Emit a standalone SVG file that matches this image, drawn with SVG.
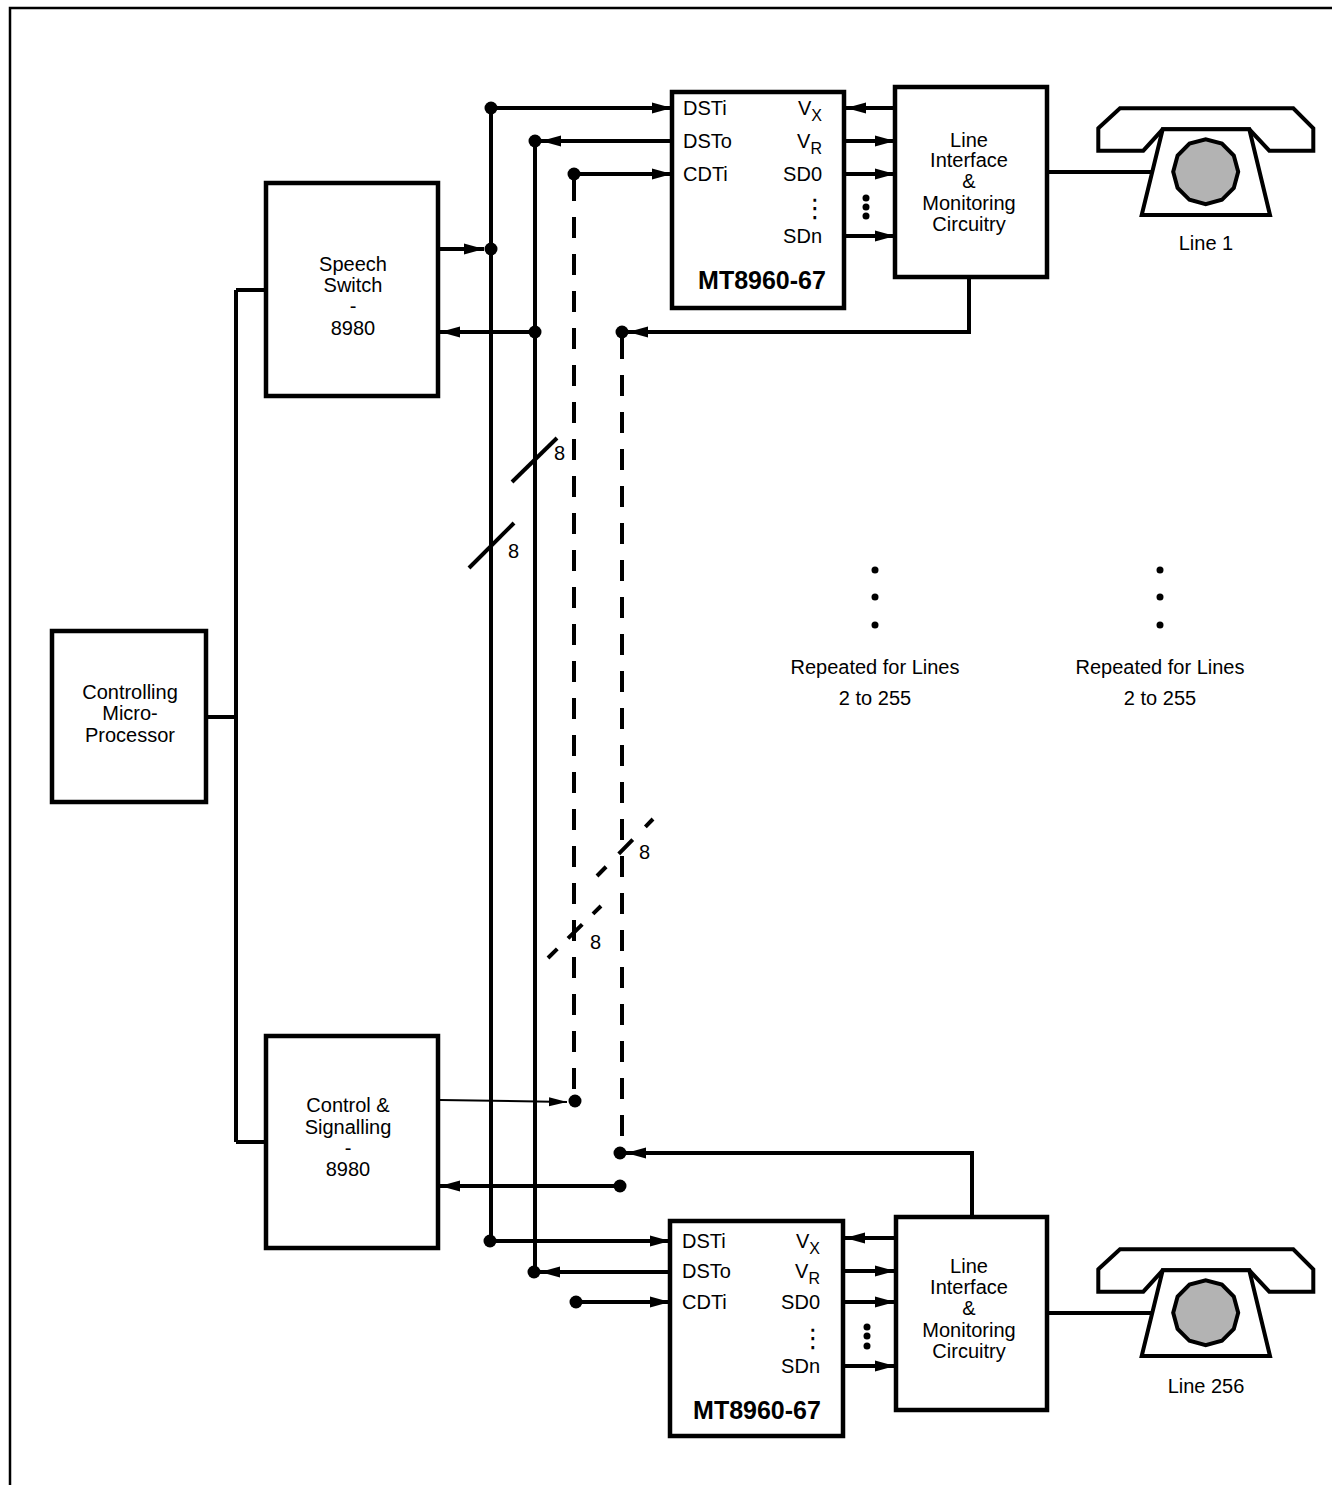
<svg xmlns="http://www.w3.org/2000/svg" width="1332" height="1485" viewBox="0 0 1332 1485">
<style>
.box{fill:#fff;stroke:#000;stroke-width:4.5}
.w{fill:none;stroke:#000;stroke-width:4}
.thin{fill:none;stroke:#000;stroke-width:2}
.dash{fill:none;stroke:#000;stroke-width:4;stroke-dasharray:21 16}
.ph{fill:#fff;stroke:#000;stroke-width:4;stroke-linejoin:miter}
.dial{fill:#b3b3b3;stroke:#000;stroke-width:4}
.t{font-family:"Liberation Sans",Arial,Helvetica,sans-serif;font-size:20px;fill:#000}
.c{text-anchor:middle}
.e{text-anchor:end}
.b{font-weight:bold;font-size:25px}
.sub{font-size:16px}
.vd{font-family:"DejaVu Sans",sans-serif;font-size:26px}
.dot{fill:#000}
</style>
<defs>
<marker id="ar" markerUnits="userSpaceOnUse" markerWidth="20" markerHeight="12" refX="20" refY="6" orient="auto">
<path d="M0,0.5 L20,6 L0,11.5 z" fill="#000"/>
</marker>
<marker id="arS" markerUnits="userSpaceOnUse" markerWidth="18" markerHeight="10" refX="18" refY="5" orient="auto">
<path d="M0,0.5 L18,5 L0,9.5 z" fill="#000"/>
</marker>
</defs>
<rect width="1332" height="1485" fill="#fff"/>
<path d="M10,1485 V8 H1332" fill="none" stroke="#000" stroke-width="2.5"/>

<g id="connectors">
<path class="w" d="M236,290 V1142"/>
<path class="w" d="M206,717 H236"/>
<path class="w" d="M236,290 H266"/>
<path class="w" d="M236,1142 H266"/>
<path class="w" d="M491,108 V1241"/>
<path class="w" d="M535,141 V1272"/>
<path class="dash" d="M574,180 V1096"/>
<path class="dash" d="M622,338 V1148"/>
<path class="w" d="M491,108 H672" marker-end="url(#ar)"/>
<path class="w" d="M672,141 H541" marker-end="url(#ar)"/>
<path class="w" d="M574,174 H672" marker-end="url(#ar)"/>
<path class="w" d="M895,108 H846" marker-end="url(#ar)"/>
<path class="w" d="M844,141 H895" marker-end="url(#ar)"/>
<path class="w" d="M844,174 H895" marker-end="url(#ar)"/>
<path class="w" d="M844,236 H895" marker-end="url(#ar)"/>
<path class="w" d="M438,249 H484" marker-end="url(#ar)"/>
<path class="w" d="M535,332 H440" marker-end="url(#ar)"/>
<path class="w" d="M969,277 V332 H628" marker-end="url(#ar)"/>
<path class="w" d="M1047,172 H1152"/>
<path class="thin" d="M440,1100 L567,1102" marker-end="url(#arS)"/>
<path class="w" d="M972,1217 V1153 H626" marker-end="url(#ar)"/>
<path class="w" d="M620,1186 H440" marker-end="url(#ar)"/>
<path class="w" d="M490,1241 H670" marker-end="url(#ar)"/>
<path class="w" d="M670,1272 H540" marker-end="url(#ar)"/>
<path class="w" d="M576,1302 H670" marker-end="url(#ar)"/>
<path class="w" d="M895,1238 H845" marker-end="url(#ar)"/>
<path class="w" d="M843,1271 H895" marker-end="url(#ar)"/>
<path class="w" d="M843,1302 H895" marker-end="url(#ar)"/>
<path class="w" d="M843,1366 H895" marker-end="url(#ar)"/>
<path class="w" d="M1047,1313 H1152"/>
<circle class="dot" cx="491" cy="108" r="6.5"/>
<circle class="dot" cx="535" cy="141" r="6.5"/>
<circle class="dot" cx="574" cy="174" r="6.5"/>
<circle class="dot" cx="491" cy="249" r="6.5"/>
<circle class="dot" cx="535" cy="332" r="6.5"/>
<circle class="dot" cx="622" cy="332" r="6.5"/>
<circle class="dot" cx="575" cy="1101" r="6.5"/>
<circle class="dot" cx="620" cy="1153" r="6.5"/>
<circle class="dot" cx="620" cy="1186" r="6.5"/>
<circle class="dot" cx="490" cy="1241" r="6.5"/>
<circle class="dot" cx="534" cy="1272" r="6.5"/>
<circle class="dot" cx="576" cy="1302" r="6.5"/>
<path class="w" d="M512,482 L557,438"/>
<path class="w" d="M469,568 L514,523"/>
<path class="w" d="M597,876 L653,819" style="stroke-dasharray:20 18;stroke-dashoffset:7"/>
<path class="w" d="M548,958 L601,906" style="stroke-dasharray:20 15;stroke-dashoffset:7"/>
<text class="t" x="554" y="460">8</text>
<text class="t" x="508" y="558">8</text>
<text class="t" x="639" y="859">8</text>
<text class="t" x="590" y="949">8</text>
<circle class="dot" cx="866" cy="198" r="3.5"/>
<circle class="dot" cx="866" cy="207" r="3.5"/>
<circle class="dot" cx="866" cy="216" r="3.5"/>
<circle class="dot" cx="867" cy="1327" r="3.5"/>
<circle class="dot" cx="867" cy="1336" r="3.5"/>
<circle class="dot" cx="867" cy="1346" r="3.5"/>
</g>

<g id="micro">
<rect class="box" x="52" y="631" width="154" height="171"/>
<text class="t c" x="130" y="699">Controlling</text>
<text class="t c" x="130" y="720">Micro-</text>
<text class="t c" x="130" y="742">Processor</text>
</g>

<g id="speech-switch">
<rect class="box" x="266" y="183" width="172" height="213"/>
<text class="t c" x="353" y="271">Speech</text>
<text class="t c" x="353" y="292">Switch</text>
<text class="t c" x="353" y="313">-</text>
<text class="t c" x="353" y="335">8980</text>
</g>

<g id="control-signalling">
<rect class="box" x="266" y="1036" width="172" height="212"/>
<text class="t c" x="348" y="1112">Control &amp;</text>
<text class="t c" x="348" y="1134">Signalling</text>
<text class="t c" x="348" y="1155">-</text>
<text class="t c" x="348" y="1176">8980</text>
</g>

<g id="mt-top">
<rect class="box" x="672" y="92" width="172" height="216"/>
<text class="t" x="683" y="115">DSTi</text>
<text class="t" x="683" y="148">DSTo</text>
<text class="t" x="683" y="181">CDTi</text>
<text class="t e" x="822" y="115">V<tspan class="sub" dy="6">X</tspan></text>
<text class="t e" x="822" y="148">V<tspan class="sub" dy="6">R</tspan></text>
<text class="t e" x="822" y="181">SD0</text>
<text class="e vd" x="828" y="217">⋮</text>
<text class="t e" x="822" y="243">SDn</text>
<text class="t c b" x="762" y="289">MT8960-67</text>
</g>

<g id="li-top">
<rect class="box" x="895" y="87" width="152" height="190"/>
<text class="t c" x="969" y="147">Line</text>
<text class="t c" x="969" y="167">Interface</text>
<text class="t c" x="969" y="188">&amp;</text>
<text class="t c" x="969" y="210">Monitoring</text>
<text class="t c" x="969" y="231">Circuitry</text>
</g>

<g id="phone-1">
<path class="ph" d="M1098.3,128.3 L1120,108.3 L1293.3,108.3 L1313.3,128.3 L1313.3,150.7 L1269.3,150.7 L1249.3,129.3 L1162.7,129.3 L1143.3,150.7 L1098.3,150.7 Z"/>
<path class="ph" d="M1162.7,129.3 L1141.7,215 L1270,215 L1249.3,129.3 Z"/>
<polygon class="dial" points="1238.2,171.7 1233.8,187.9 1221.9,199.8 1205.7,204.2 1189.5,199.8 1177.6,187.9 1173.2,171.7 1177.6,155.5 1189.5,143.6 1205.7,139.2 1221.9,143.6 1233.8,155.5"/>
<text class="t c" x="1206" y="250">Line 1</text>
</g>

<g id="mt-bottom">
<rect class="box" x="670" y="1221" width="173" height="215"/>
<text class="t" x="682" y="1248">DSTi</text>
<text class="t" x="682" y="1278">DSTo</text>
<text class="t" x="682" y="1309">CDTi</text>
<text class="t e" x="820" y="1248">V<tspan class="sub" dy="6">X</tspan></text>
<text class="t e" x="820" y="1278">V<tspan class="sub" dy="6">R</tspan></text>
<text class="t e" x="820" y="1309">SD0</text>
<text class="e vd" x="826" y="1347">⋮</text>
<text class="t e" x="820" y="1373">SDn</text>
<text class="t c b" x="757" y="1419">MT8960-67</text>
</g>

<g id="li-bottom">
<rect class="box" x="896" y="1217" width="151" height="193"/>
<text class="t c" x="969" y="1273">Line</text>
<text class="t c" x="969" y="1294">Interface</text>
<text class="t c" x="969" y="1315">&amp;</text>
<text class="t c" x="969" y="1337">Monitoring</text>
<text class="t c" x="969" y="1358">Circuitry</text>
</g>

<g id="phone-256" transform="translate(0,1141)">
<path class="ph" d="M1098.3,128.3 L1120,108.3 L1293.3,108.3 L1313.3,128.3 L1313.3,150.7 L1269.3,150.7 L1249.3,129.3 L1162.7,129.3 L1143.3,150.7 L1098.3,150.7 Z"/>
<path class="ph" d="M1162.7,129.3 L1141.7,215 L1270,215 L1249.3,129.3 Z"/>
<polygon class="dial" points="1238.2,171.7 1233.8,187.9 1221.9,199.8 1205.7,204.2 1189.5,199.8 1177.6,187.9 1173.2,171.7 1177.6,155.5 1189.5,143.6 1205.7,139.2 1221.9,143.6 1233.8,155.5"/>
<text class="t c" x="1206" y="252">Line 256</text>
</g>

<g id="repeat-1">
<circle class="dot" cx="875" cy="570" r="3.5"/>
<circle class="dot" cx="875" cy="597" r="3.5"/>
<circle class="dot" cx="875" cy="625" r="3.5"/>
<text class="t c" x="875" y="674">Repeated for Lines</text>
<text class="t c" x="875" y="705">2 to 255</text>
</g>

<g id="repeat-2">
<circle class="dot" cx="1160" cy="570" r="3.5"/>
<circle class="dot" cx="1160" cy="597" r="3.5"/>
<circle class="dot" cx="1160" cy="625" r="3.5"/>
<text class="t c" x="1160" y="674">Repeated for Lines</text>
<text class="t c" x="1160" y="705">2 to 255</text>
</g>
</svg>
